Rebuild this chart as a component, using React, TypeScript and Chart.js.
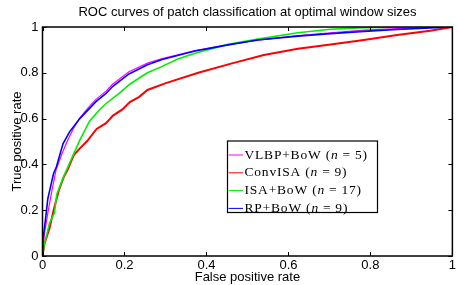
import React, { useEffect, useRef } from "react";
import { Chart, registerables } from "chart.js";

Chart.register(...registerables);

const titleText = "ROC curves of patch classification at optimal window sizes";
const xAxisTitle = "False positive rate";
const yAxisTitle = "True positive rate";
const xTickValues = [0, 0.2, 0.4, 0.6, 0.8, 1];
const yTickValues = [0, 0.2, 0.4, 0.6, 0.8, 1];

const seriesNames = ["VLBP+BoW", "ConvISA", "ISA+BoW", "RP+BoW"];
const seriesN = [5, 9, 17, 9];
const seriesColors = ["#ff00ff", "#ff0000", "#00ee00", "#0000ff"];

const vlbpFpr = [0, 0.005, 0.013, 0.023, 0.033, 0.046, 0.06, 0.075, 0.09, 0.11, 0.131, 0.155, 0.171, 0.211, 0.256, 0.292, 0.372, 0.453, 0.525, 0.623, 0.703, 0.784, 0.865, 0.946, 1];
const vlbpTpr = [0, 0.1, 0.187, 0.287, 0.375, 0.44, 0.5, 0.555, 0.6, 0.645, 0.685, 0.72, 0.75, 0.805, 0.842, 0.862, 0.897, 0.923, 0.943, 0.962, 0.975, 0.986, 0.993, 0.998, 1];

const convFpr = [0, 0.005, 0.017, 0.027, 0.04, 0.052, 0.062, 0.076, 0.091, 0.108, 0.132, 0.155, 0.172, 0.195, 0.213, 0.236, 0.256, 0.301, 0.38, 0.46, 0.54, 0.623, 0.703, 0.784, 0.865, 0.946, 1];
const convTpr = [0, 0.055, 0.12, 0.2, 0.287, 0.345, 0.38, 0.44, 0.47, 0.5, 0.555, 0.58, 0.613, 0.64, 0.672, 0.695, 0.725, 0.755, 0.8, 0.84, 0.878, 0.905, 0.924, 0.943, 0.965, 0.984, 1];

const isaFpr = [0, 0.004, 0.009, 0.017, 0.029, 0.035, 0.05, 0.066, 0.091, 0.115, 0.14, 0.155, 0.187, 0.213, 0.256, 0.292, 0.33, 0.372, 0.453, 0.525, 0.623, 0.703, 0.784, 0.865, 1];
const isaTpr = [0, 0.05, 0.083, 0.143, 0.187, 0.27, 0.34, 0.405, 0.506, 0.59, 0.64, 0.666, 0.71, 0.75, 0.8, 0.828, 0.86, 0.885, 0.924, 0.947, 0.975, 0.99, 0.997, 0.999, 1];

const rpFpr = [0, 0.001, 0.007, 0.013, 0.018, 0.027, 0.034, 0.05, 0.066, 0.091, 0.131, 0.155, 0.171, 0.211, 0.256, 0.292, 0.372, 0.453, 0.525, 0.623, 0.703, 0.784, 0.865, 0.946, 1];
const rpTpr = [0, 0.07, 0.156, 0.25, 0.29, 0.36, 0.39, 0.49, 0.542, 0.6, 0.675, 0.71, 0.74, 0.795, 0.835, 0.858, 0.895, 0.922, 0.943, 0.96, 0.971, 0.981, 0.989, 0.996, 1];

const seriesFpr = [vlbpFpr, convFpr, isaFpr, rpFpr];
const seriesTpr = [vlbpTpr, convTpr, isaTpr, rpTpr];
const seriesWidths = [1.2, 2, 1.6, 1.6];
const seriesOrder = [4, 3, 2, 1];

const SANS = "'Liberation Sans', Arial, sans-serif";
const SERIF = "'Liberation Serif', 'Times New Roman', serif";

const framePlugin = {
  id: "frame",
  afterDatasetsDraw(chart: any) {
    const { ctx, chartArea } = chart;
    const { left, right, top, bottom } = chartArea;
    const xs = chart.scales.x;
    const ys = chart.scales.y;
    ctx.save();
    ctx.strokeStyle = "#000";
    ctx.lineWidth = 1;
    ctx.beginPath();
    const tl = 4;
    xTickValues.forEach((v) => {
      const px = Math.round(xs.getPixelForValue(v)) + 0.5;
      ctx.moveTo(px, bottom);
      ctx.lineTo(px, bottom - tl);
      ctx.moveTo(px, top);
      ctx.lineTo(px, top + tl);
    });
    yTickValues.forEach((v) => {
      const py = Math.round(ys.getPixelForValue(v)) + 0.5;
      ctx.moveTo(left, py);
      ctx.lineTo(left + tl, py);
      ctx.moveTo(right, py);
      ctx.lineTo(right - tl, py);
    });
    ctx.stroke();
    ctx.lineWidth = 1.5;
    ctx.strokeRect(left, top, right - left, bottom - top);

    // title
    ctx.fillStyle = "#000";
    ctx.font = `13px ${SANS}`;
    ctx.textAlign = "center";
    ctx.textBaseline = "middle";
    ctx.fillText(titleText, (left + right) / 2, 12);

    // legend
    const bx = 227.5, by = 141, bw = 150, bh = 71.5;
    ctx.fillStyle = "#fff";
    ctx.fillRect(bx, by, bw, bh);
    ctx.lineWidth = 1.2;
    ctx.strokeStyle = "#000";
    ctx.strokeRect(bx, by, bw, bh);
    const rowH = 17.8;
    chart.data.datasets.forEach((ds: any, i: number) => {
      const cy = by + 14 + i * rowH;
      ctx.strokeStyle = ds.borderColor;
      ctx.lineWidth = 1;
      ctx.beginPath();
      ctx.moveTo(bx + 1, cy);
      ctx.lineTo(bx + 15.5, cy);
      ctx.stroke();
      ctx.fillStyle = "#000";
      ctx.textAlign = "left";
      ctx.textBaseline = "middle";
      (ctx as any).letterSpacing = "0.8px";
      let x = bx + 17;
      const parts: [string, boolean, number][] = [
        [`${seriesNames[i]} (`, false, 0],
        ["n", true, 4],
        ["=", false, 4],
        [`${seriesN[i]})`, false, 0],
      ];
      parts.forEach(([t, it, gap]) => {
        ctx.font = `${it ? "italic " : ""}13.5px ${SERIF}`;
        ctx.fillText(t, x, cy);
        x += ctx.measureText(t).width + gap;
      });
      (ctx as any).letterSpacing = "0px";
    });
    ctx.restore();
  },
};

export default function App() {
  const ref = useRef<HTMLCanvasElement>(null);
  useEffect(() => {
    document.body.style.margin = "0";
    if (!ref.current) return;
    const datasets = seriesNames.map((name, i) => ({
      label: `${name} (n = ${seriesN[i]})`,
      data: seriesFpr[i].map((x, j) => ({ x, y: seriesTpr[i][j] })),
      borderColor: seriesColors[i],
      backgroundColor: seriesColors[i],
      borderWidth: seriesWidths[i],
      pointRadius: 0,
      tension: 0,
      fill: false,
      order: seriesOrder[i],
    }));
    const chart = new Chart(ref.current, {
      type: "line",
      data: { datasets },
      plugins: [framePlugin],
      options: {
        animation: false,
        responsive: false,
        layout: { padding: { top: 27, right: 1.5, left: 0, bottom: 0 } },
        plugins: { legend: { display: false }, tooltip: { enabled: false }, title: { display: false } },
        scales: {
          x: {
            type: "linear",
            min: 0,
            max: 1,
            afterBuildTicks: (s: any) => {
              s.ticks = xTickValues.map((v) => ({ value: v }));
            },
            afterFit: (s: any) => {
              s.height = 29;
            },
            grid: { display: false, drawTicks: false },
            border: { display: false },
            ticks: { color: "#000", font: { family: SANS, size: 13 }, padding: 2, maxRotation: 0, callback: (v: any) => String(v) },
            title: { display: true, text: xAxisTitle, color: "#000", font: { family: SANS, size: 13 }, padding: { top: 5, bottom: 0 } },
          },
          y: {
            type: "linear",
            min: 0,
            max: 1,
            afterBuildTicks: (s: any) => {
              s.ticks = yTickValues.map((v) => ({ value: v }));
            },
            afterFit: (s: any) => {
              s.width = 42.5;
            },
            grid: { display: false, drawTicks: false },
            border: { display: false },
            ticks: { color: "#000", font: { family: SANS, size: 13 }, padding: 4, callback: (v: any) => String(v) },
            title: { display: true, text: yAxisTitle, color: "#000", font: { family: SANS, size: 13 }, padding: { top: 9.5, bottom: 0 } },
          },
        },
      },
    } as any);
    return () => chart.destroy();
  }, []);
  return (
    <div style={{ position: "absolute", left: 0, top: 0 }}>
      <canvas ref={ref} width={458} height={285} style={{ display: "block" }} />
    </div>
  );
}
